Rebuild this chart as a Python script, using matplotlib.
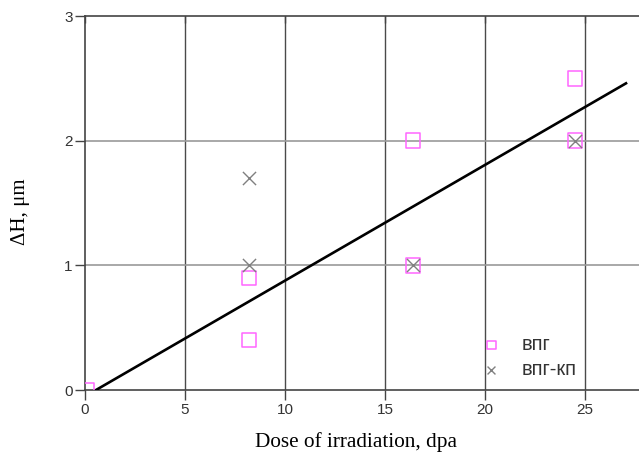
import numpy as np
import matplotlib.pyplot as plt

# measured swelling vs irradiation dose
dose_vpg = [0.1, 8.2, 8.2, 16.4, 16.4, 24.5, 24.5]
dh_vpg = [0.0, 0.9, 0.4, 2.0, 1.0, 2.5, 2.0]

dose_vpg_kp = [8.2, 8.2, 16.4, 24.5]
dh_vpg_kp = [1.7, 1.0, 1.0, 2.0]

# linear fit line end points
fit_dose = [0.55, 27.05]
fit_dh = [0.0, 2.46]

x_ticks = [0, 5, 10, 15, 20, 25]
y_ticks = [0, 1, 2, 3]

W, H = 639, 461
fig = plt.figure(figsize=(W / 100, H / 100), dpi=100)
ax = fig.add_axes([85 / W, 1 - 390 / H, (648 - 85) / W, (390 - 16) / H])

ax.set_xlim(0, 28.15)
ax.set_ylim(0, 3)

for x in x_ticks[1:]:
    ax.axvline(x, color='#4a4a4a', lw=1.0, zorder=1)
for y in y_ticks[1:3]:
    ax.axhline(y, color='#9a9a9a', lw=1.2, zorder=1)

ax.plot(fit_dose, fit_dh, color='black', lw=1.9, zorder=3)

ax.scatter(dose_vpg, dh_vpg, marker='s', s=110, facecolors='none',
           edgecolors='#ff66ff', linewidths=1.1, zorder=4, label='впг')
ax.scatter(dose_vpg_kp, dh_vpg_kp, marker='x', s=90, color='#808080',
           linewidths=1.0, zorder=5, label='впг-кп')

ax.set_xticks(x_ticks)
ax.set_yticks(y_ticks)
ax.tick_params(axis='both', direction='out', length=7, width=1.0,
               color='#444444', labelsize=11, labelcolor='#333333', pad=2)
ax.tick_params(axis='x', top=True)
for t in ax.xaxis.get_ticklines()[1::2]:
    t.set_marker(3)
    t.set_markersize(5)

for side in ['left', 'bottom', 'top']:
    ax.spines[side].set_color('#444444')
    ax.spines[side].set_linewidth(1.2)
ax.spines['right'].set_visible(False)

ax.set_xlabel('Dose of irradiation, dpa', family='Liberation Serif',
              fontsize=15.3)
ax.set_ylabel('ΔH, μm', family='Liberation Serif', fontsize=15)
ax.xaxis.set_label_coords(0.481, -0.113)
ax.yaxis.set_label_coords(-0.097, 0.476)

for lbl in ax.get_xticklabels() + ax.get_yticklabels():
    lbl.set_family('Liberation Sans')

leg = ax.legend(loc='lower left', bbox_to_anchor=(0.661, -0.02), frameon=False,
                markerscale=0.6, handlelength=1.6, handletextpad=0.7,
                fontsize=14.5, labelspacing=0.3)
for txt in leg.get_texts():
    txt.set_family('Liberation Sans')
    txt.set_color('#333333')

fig.savefig('out.png', dpi=100)
